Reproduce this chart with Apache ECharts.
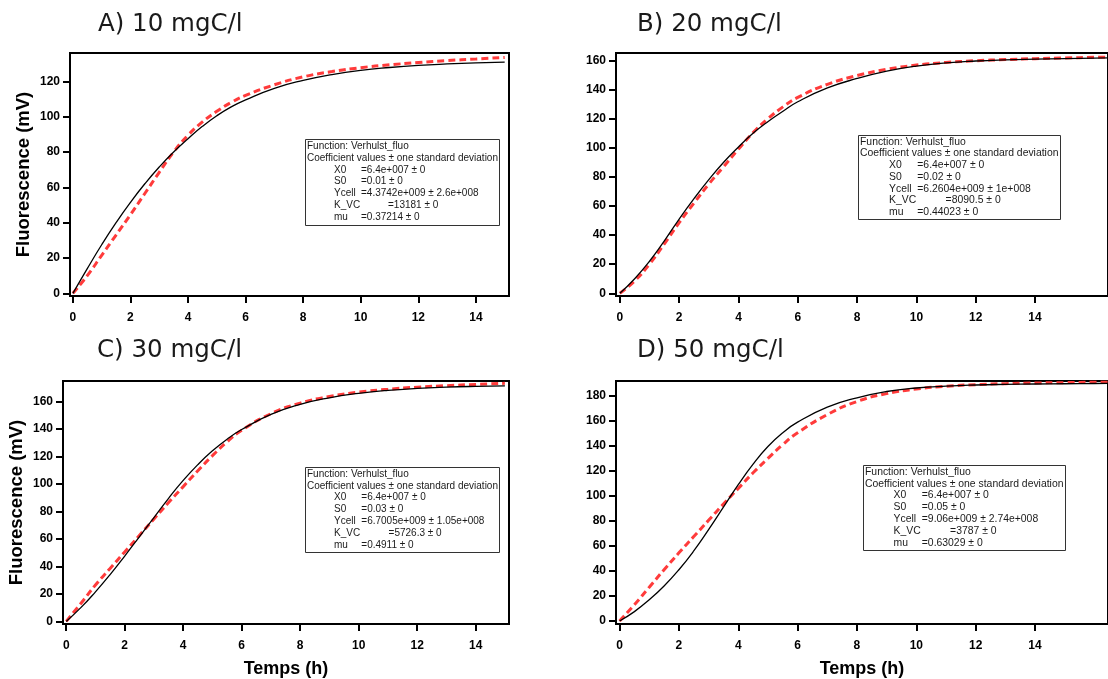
<!DOCTYPE html>
<html><head><meta charset="utf-8">
<script src="https://cdn.jsdelivr.net/npm/echarts@6/dist/echarts.min.js"></script>
<style>html,body{margin:0;padding:0;background:#fff}#c{width:1108px;height:679px}</style>
</head><body><div id="c"></div>
<script>
// ---------- data ----------
const panelTitles = ['A) 10 mgC/l', 'B) 20 mgC/l', 'C) 30 mgC/l', 'D) 50 mgC/l'];
const xTickValues = [0, 2, 4, 6, 8, 10, 12, 14];
const yTicksA = [0, 20, 40, 60, 80, 100, 120];
const yTicksB = [0, 20, 40, 60, 80, 100, 120, 140, 160];
const yTicksC = [0, 20, 40, 60, 80, 100, 120, 140, 160];
const yTicksD = [0, 20, 40, 60, 80, 100, 120, 140, 160, 180];

const timeA = [0, 0.5, 1, 1.5, 2, 2.5, 3, 3.5, 4, 4.5, 5, 5.5, 6, 7, 8, 9, 10, 11, 12, 13, 14, 15];
const modelA = [0, 14, 27.5, 40, 51.5, 62, 71.5, 80, 87.5, 94.5, 100.5, 105.5, 109.5, 116, 120.5, 123.8, 126.2, 127.8, 129, 129.8, 130.4, 130.8];
const measA  = [0, 10, 21.5, 33, 44.5, 56.5, 68.5, 80, 89.5, 97, 103, 108, 112, 118, 122.5, 125.5, 127.7, 129.3, 130.6, 131.7, 132.6, 133.5];

const timeB = [0, 0.5, 1, 1.5, 2, 2.5, 3, 3.5, 4, 4.5, 5, 5.5, 6, 7, 8, 9, 10, 11, 12, 13, 14, 15, 16, 16.5];
const modelB = [0, 10, 22, 36, 51, 65, 78, 90, 100.5, 110, 118, 125, 131.5, 141, 147.5, 152.5, 156, 158.2, 159.5, 160.3, 160.8, 161.2, 161.5, 161.6];
const measB  = [0, 8.5, 20, 34, 48.5, 62, 75, 87, 99, 110.5, 120, 128, 134.5, 143.5, 149.5, 153.8, 156.7, 158.5, 159.7, 160.5, 161.1, 161.6, 162, 162.1];

const timeC = [0, 0.5, 1, 1.5, 2, 2.5, 3, 3.5, 4, 4.5, 5, 5.5, 6, 7, 8, 9, 10, 11, 12, 13, 14, 15];
const modelC = [0, 10, 21.5, 34, 47.5, 61.5, 75.5, 89.5, 102.5, 114, 124, 132.5, 139.5, 150.5, 157.8, 162.6, 165.8, 168, 169.4, 170.3, 170.9, 171.3];
const measC  = [0, 13, 26.5, 38.5, 50.5, 62.5, 74.5, 86.5, 98, 109.5, 120.5, 130.5, 139, 151, 158.7, 163.5, 166.7, 168.8, 170.3, 171.4, 172.3, 173.1];

const timeD = [0, 0.5, 1, 1.5, 2, 2.5, 3, 3.5, 4, 4.5, 5, 5.5, 6, 7, 8, 9, 10, 11, 12, 13, 14, 15, 16, 16.5];
const modelD = [0, 7.5, 17, 28, 41, 56, 73, 91, 109, 125.5, 139.5, 150.5, 159, 171, 178.5, 183.5, 186.3, 187.8, 188.7, 189.2, 189.5, 189.7, 189.9, 190];
const measD  = [0, 13, 27, 41, 54.5, 67.5, 80.5, 93.5, 106, 118.5, 130, 141, 150.5, 165, 175.5, 181.8, 185.5, 187.7, 189, 189.8, 190.3, 190.6, 190.9, 191];

const fitFunction = 'Verhulst_fluo';
const coefX0 = ['6.4e+007 ± 0', '6.4e+007 ± 0', '6.4e+007 ± 0', '6.4e+007 ± 0'];
const coefS0 = ['0.01 ± 0', '0.02 ± 0', '0.03 ± 0', '0.05 ± 0'];
const coefYcell = ['4.3742e+009 ± 2.6e+008', '6.2604e+009 ± 1e+008', '6.7005e+009 ± 1.05e+008', '9.06e+009 ± 2.74e+008'];
const coefKVC = ['13181 ± 0', '8090.5 ± 0', '5726.3 ± 0', '3787 ± 0'];
const coefMu = ['0.37214 ± 0', '0.44023 ± 0', '0.4911 ± 0', '0.63029 ± 0'];

const yName = 'Fluorescence (mV)';
const xName = 'Temps (h)';

// ---------- layout ----------
const panels = [
  { t: timeA, m: modelA, d: measA, yt: yTicksA,
    grid: {left: 70, top: 53, width: 439, height: 243}, xr: [-0.10, 15.15], yr: [-1.5, 136],
    title: {left: 98, top: 12}, box: {left: 305, top: 139, fs: 10, lh: 11.9, ind: 27, k: 27},
    yName: true, xName: false },
  { t: timeB, m: modelB, d: measB, yt: yTicksB,
    grid: {left: 616, top: 53, width: 500, height: 243}, xr: [-0.13, 16.46], yr: [-1.85, 165.0],
    title: {left: 637, top: 12}, box: {left: 858, top: 135, fs: 10.4, lh: 11.7, ind: 29, k: 28.3},
    yName: false, xName: false },
  { t: timeC, m: modelC, d: measC, yt: yTicksC,
    grid: {left: 63, top: 381, width: 446, height: 244}, xr: [-0.11, 15.14], yr: [-1.9, 174.8],
    title: {left: 97, top: 338}, box: {left: 305, top: 467, fs: 10, lh: 11.85, ind: 27, k: 27.3},
    yName: true, xName: true },
  { t: timeD, m: modelD, d: measD, yt: yTicksD,
    grid: {left: 616, top: 381, width: 500, height: 244}, xr: [-0.12, 16.46], yr: [-2.4, 191.9],
    title: {left: 637, top: 338}, box: {left: 863, top: 465, fs: 10.4, lh: 11.83, ind: 28.5, k: 28.3},
    yName: false, xName: true }
];

const FONT = '"Liberation Sans", Arial, sans-serif';

function infoText(i) {
  return [
    'Function: ' + fitFunction,
    'Coefficient values ± one standard deviation',
    '{i| }{k|X0}{v|=' + coefX0[i] + '}',
    '{i| }{k|S0}{v|=' + coefS0[i] + '}',
    '{i| }{k|Ycell}{v|=' + coefYcell[i] + '}',
    '{i| }{k2|K_VC}{v|=' + coefKVC[i] + '}',
    '{i| }{k|mu}{v|=' + coefMu[i] + '}'
  ].join('\n');
}

const option = { animation: false, backgroundColor: '#fff', title: [], grid: [], xAxis: [], yAxis: [], series: [] };

panels.forEach((p, i) => {
  option.title.push({
    text: panelTitles[i], left: p.title.left, top: p.title.top, padding: 0,
    textStyle: { fontFamily: '"DejaVu Sans", sans-serif', fontSize: 24.5, fontWeight: 'normal', color: '#1a1a1a' }
  });
  const b = p.box;
  const base = { fontFamily: FONT, fontSize: b.fs, lineHeight: b.lh, color: '#1a1a1a' };
  option.title.push({
    text: infoText(i), left: b.left, top: b.top, padding: [1, 2, 2, 2],
    borderWidth: 1, borderColor: '#333', backgroundColor: '#fff', z: 10,
    textStyle: Object.assign({ fontWeight: 'normal', rich: {
      i: Object.assign({ width: b.ind }, base),
      k: Object.assign({ width: b.k }, base),
      k2: Object.assign({ width: b.k * 2 }, base),
      v: Object.assign({}, base)
    } }, base)
  });
  option.grid.push(Object.assign({ show: true, borderColor: '#000', borderWidth: 2, backgroundColor: '#fff' }, p.grid));
  option.xAxis.push({
    type: 'value', gridIndex: i, min: p.xr[0], max: p.xr[1],
    name: p.xName ? xName : '', nameLocation: 'middle', nameGap: 36,
    nameTextStyle: { fontFamily: FONT, fontSize: 18, fontWeight: 'bold', color: '#000' },
    axisLine: { show: true, onZero: false, lineStyle: { color: '#000', width: 2 } },
    axisTick: { show: true, inside: false, length: 7, customValues: xTickValues, lineStyle: { color: '#000', width: 2 } },
    axisLabel: { customValues: xTickValues, margin: 16, fontFamily: FONT, fontSize: 12, fontWeight: 'bold', color: '#000' },
    splitLine: { show: false }
  });
  option.yAxis.push({
    type: 'value', gridIndex: i, min: p.yr[0], max: p.yr[1],
    name: p.yName ? yName : '', nameLocation: 'middle', nameRotate: 90, nameGap: 37,
    nameTextStyle: { fontFamily: FONT, fontSize: 18.5, fontWeight: 'bold', color: '#000' },
    axisLine: { show: true, onZero: false, lineStyle: { color: '#000', width: 2 } },
    axisTick: { show: true, inside: false, length: 7, customValues: p.yt, lineStyle: { color: '#000', width: 2 } },
    axisLabel: { customValues: p.yt, margin: 10, fontFamily: FONT, fontSize: 12, fontWeight: 'bold', color: '#000' },
    splitLine: { show: false }
  });
  option.series.push({
    type: 'line', xAxisIndex: i, yAxisIndex: i, showSymbol: false, smooth: 0.5,
    data: p.t.map((x, j) => [x, p.d[j]]),
    lineStyle: { color: '#ff3b3b', width: 3, type: [7, 4] }, z: 2
  });
  option.series.push({
    type: 'line', xAxisIndex: i, yAxisIndex: i, showSymbol: false, smooth: 0.5,
    data: p.t.map((x, j) => [x, p.m[j]]),
    lineStyle: { color: '#000', width: 1.3 }, z: 3
  });
});

const chart = echarts.init(document.getElementById('c'), null, { renderer: 'canvas' });
chart.setOption(option);
</script>
</body></html>
